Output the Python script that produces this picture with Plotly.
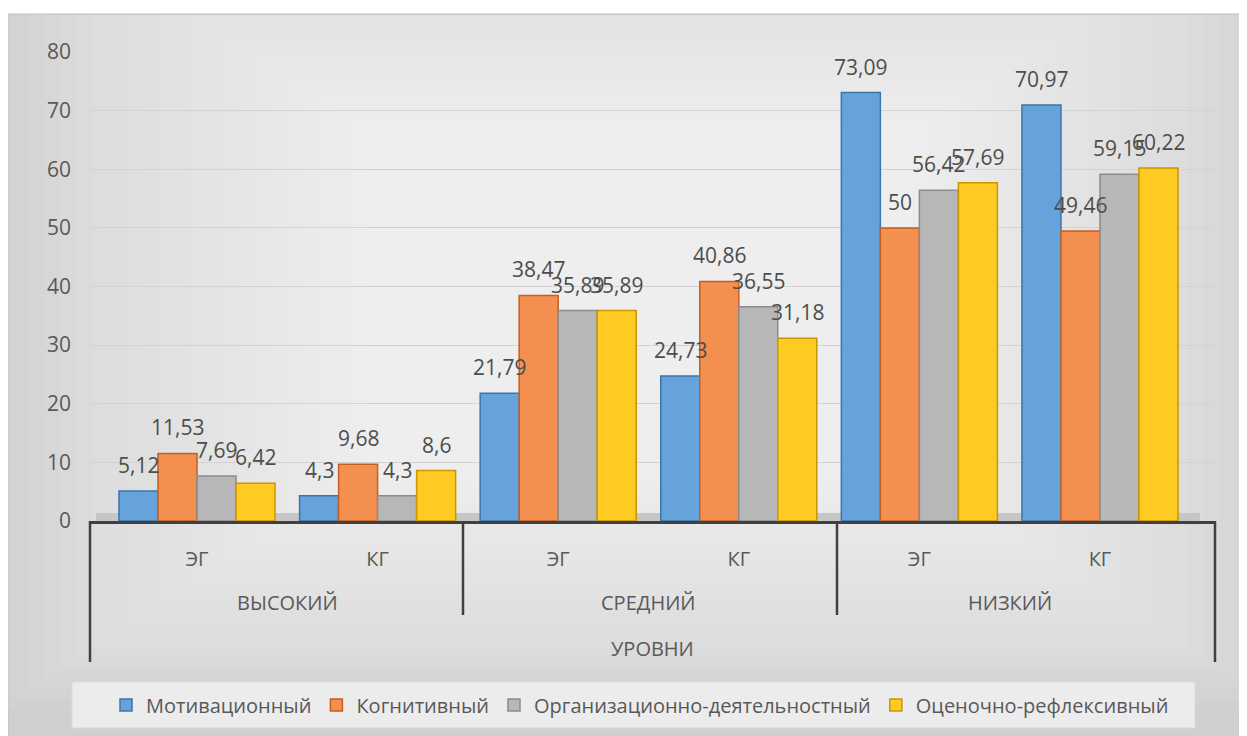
import plotly.graph_objects as go

# ---------------- data ----------------
levels = ["ВЫСОКИЙ", "СРЕДНИЙ", "НИЗКИЙ"]
groups = ["ЭГ", "КГ", "ЭГ", "КГ", "ЭГ", "КГ"]
axis_title = "УРОВНИ"
series_names = ["Мотивационный", "Когнитивный",
                "Организационно-деятельностный", "Оценочно-рефлексивный"]
motiv = [5.12, 4.3, 21.79, 24.73, 73.09, 70.97]
kogn = [11.53, 9.68, 38.47, 40.86, 50, 49.46]
org = [7.69, 4.3, 35.89, 36.55, 56.42, 59.15]
ocen = [6.42, 8.6, 35.89, 31.18, 57.69, 60.22]
y_ticks = [0, 10, 20, 30, 40, 50, 60, 70, 80]

series_values = [motiv, kogn, org, ocen]
fill_colors = ["#66A3DA", "#F3904F", "#B7B7B7", "#FFCA22"]
line_colors = ["#3C75A8", "#C45E22", "#8C8C8C", "#C79600"]

FONT = "Open Sans"
TXT = "#595959"
W, H = 1247, 736
OFF = 8  # page body margin: screen pixel = figure pixel + OFF
# plot area in screen pixels: x 90..1215, y 52..521
L = 90 - OFF
R = W - (1215 - OFF)
T = 52 - OFF
B = H - (521 - OFF)
PW, PH = W - L - R, H - T - B


def px(p):  # screen x pixel -> paper
    return (p - OFF - L) / PW


def py(p):  # screen y pixel -> paper
    return (H - B - (p - OFF)) / PH


x_idx = list(range(len(groups)))
bargap = 0.136
bw = (1 - bargap) / len(series_values)

fig = go.Figure()
for k, (name, vals) in enumerate(zip(series_names, series_values)):
    fig.add_trace(go.Bar(
        x=x_idx, y=vals, name=name,
        marker=dict(color=fill_colors[k], line=dict(color=line_colors[k], width=1.5)),
        hoverinfo="y+name",
    ))

# value labels (decimal comma), placed above each bar
annotations = []
for k, vals in enumerate(series_values):
    for i, v in enumerate(vals):
        annotations.append(dict(
            x=i + (k - (len(series_values) - 1) / 2) * bw, y=v,
            xref="x", yref="y", text=f"{v:g}".replace(".", ","),
            showarrow=False, yanchor="bottom", yshift=10,
            font=dict(family=FONT, size=21, color="#4d4d4d"),
        ))

# level labels and axis title
for j, lv in enumerate(levels):
    annotations.append(dict(
        x=2 * j + 0.5, y=py(602), xref="x", yref="paper", text=lv,
        showarrow=False, yanchor="middle",
        font=dict(family=FONT, size=20, color=TXT)))
annotations.append(dict(
    x=px(652), y=py(648), xref="paper", yref="paper", text=axis_title,
    showarrow=False, yanchor="middle",
    font=dict(family=FONT, size=20, color=TXT)))

# ---------------- decorative shapes ----------------
shapes = []
# chart area background with soft gradient (grey edges, light centre)
shapes.append(dict(type="rect", xref="paper", yref="paper",
                   x0=px(8), x1=px(1260), y0=py(750), y1=py(14),
                   fillcolor="#cfcfcf", line=dict(color="#c2c2c2", width=1), layer="below"))
steps = 40
for s in range(1, steps + 1):
    f = s / (steps + 1)
    cx, cy = 640, 300
    hw, hh = 660 * (1 - f), 420 * (1 - f)
    shapes.append(dict(type="rect", xref="paper", yref="paper",
                       x0=px(cx - hw), x1=px(cx + hw),
                       y0=py(min(cy + hh, 736)), y1=py(max(cy - hh, 15)),
                       fillcolor="rgba(255,255,255,0.055)", line=dict(width=0), layer="below"))
# floor
shapes.append(dict(type="rect", xref="paper", yref="paper",
                   x0=px(96), x1=px(1200), y0=0, y1=py(513),
                   fillcolor="#c6c6c6", line=dict(width=0), layer="below"))
# category dividers
div_col = "#404040"
for xp, yb in [(90, 662), (463, 615), (837, 615), (1215, 662)]:
    shapes.append(dict(type="line", xref="paper", yref="paper",
                       x0=px(xp), x1=px(xp), y0=0, y1=py(yb),
                       line=dict(color=div_col, width=2.5)))
# legend box
shapes.append(dict(type="rect", xref="paper", yref="paper",
                   x0=px(72), x1=px(1195), y0=py(728), y1=py(682),
                   fillcolor="rgba(238,238,238,0.9)", line=dict(color="#dadada", width=1),
                   layer="below"))

fig.update_layout(
    width=W, height=H,
    margin=dict(l=L, r=R, t=T, b=B),
    paper_bgcolor="white",
    plot_bgcolor="rgba(0,0,0,0)",
    barmode="group", bargap=bargap, bargroupgap=0,
    font=dict(family=FONT, color=TXT),
    showlegend=True,
    legend=dict(orientation="h", x=px(640), xanchor="center", y=py(705), yanchor="middle",
                bgcolor="rgba(0,0,0,0)", font=dict(family=FONT, size=20, color=TXT),
                itemwidth=30, traceorder="normal"),
    annotations=annotations,
    shapes=shapes,
    xaxis=dict(range=[-0.5925, 5.637], tickvals=x_idx, ticktext=groups,
               showgrid=False, zeroline=False, showline=True, linecolor=div_col,
               linewidth=2.5, ticks="", ticklabelstandoff=18,
               tickfont=dict(family=FONT, size=20, color=TXT), fixedrange=True),
    yaxis=dict(range=[0, 80], tickvals=y_ticks, showgrid=True, gridcolor="#d3d3d3",
               gridwidth=1, zeroline=False, showline=False, ticks="",
               ticklabelstandoff=18, tickfont=dict(family=FONT, size=21, color=TXT),
               fixedrange=True),
)

fig.write_html("out.html")
